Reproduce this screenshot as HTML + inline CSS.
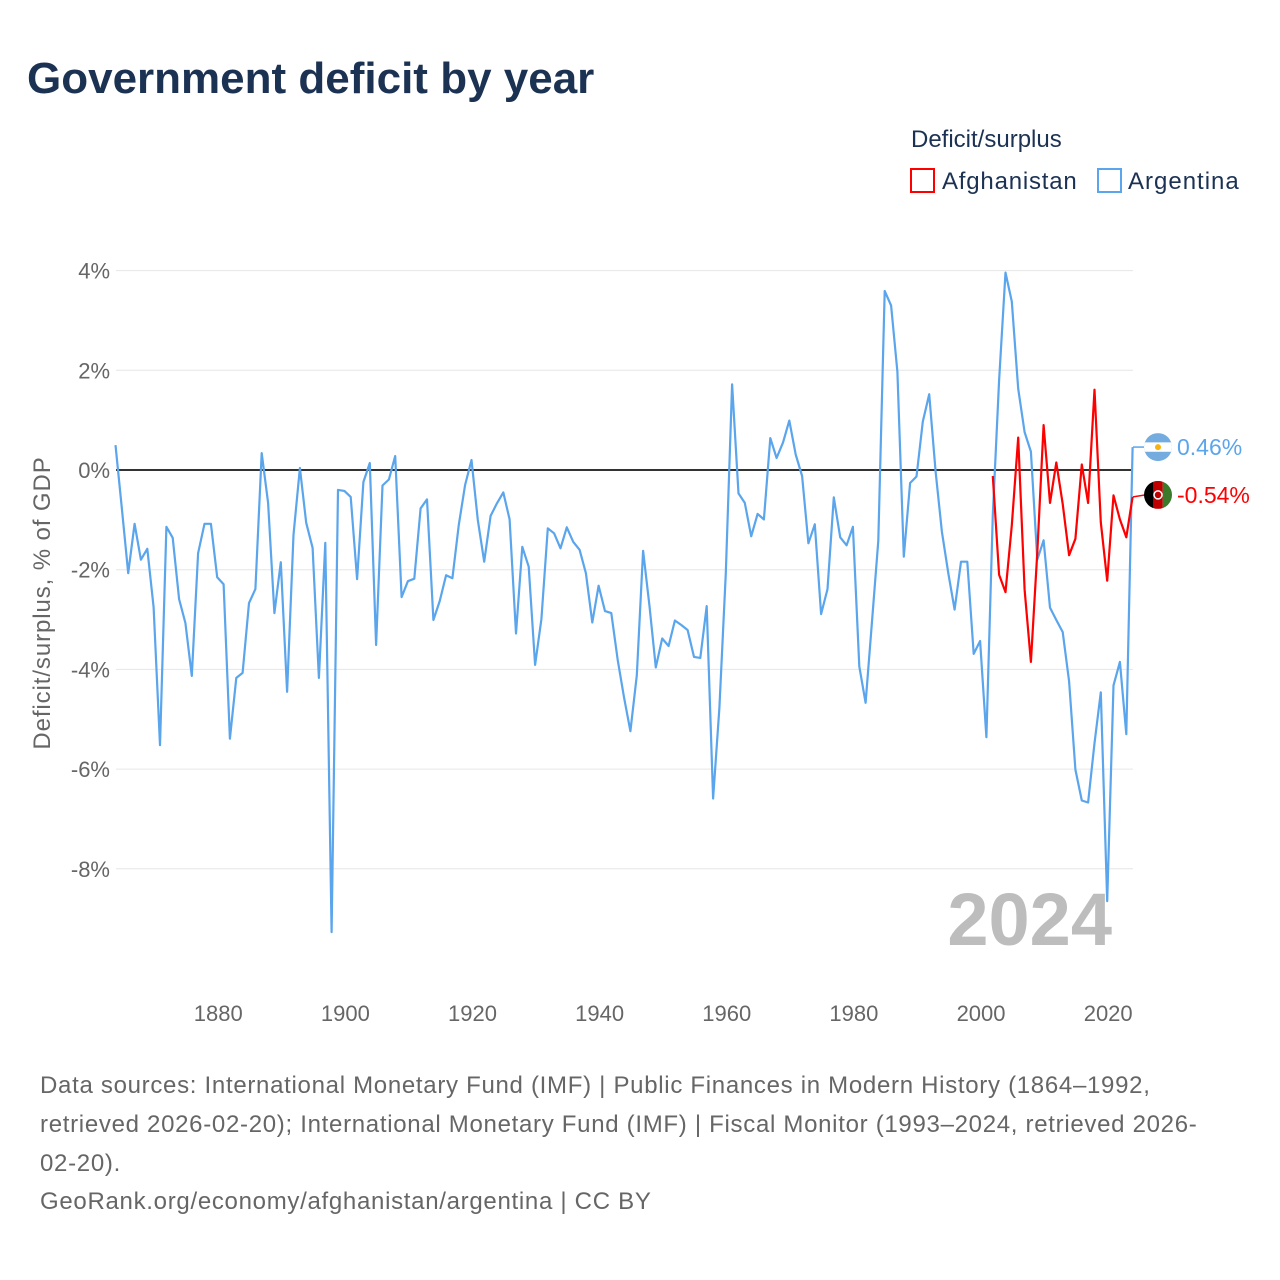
<!DOCTYPE html>
<html><head><meta charset="utf-8"><style>
html,body{margin:0;padding:0;background:#fff;}
body{width:1280px;height:1280px;position:relative;overflow:hidden;font-family:"Liberation Sans","DejaVu Sans",sans-serif;}
#chart{position:absolute;left:0;top:0;}
</style></head><body>
<svg id="chart" width="1280" height="1280" viewBox="0 0 1280 1280">
<text x="27" y="93" font-size="44" font-weight="bold" fill="#1b3253">Government deficit by year</text>
<text x="911" y="147" font-size="24" fill="#1b3253">Deficit/surplus</text>
<g><rect x="911" y="169" width="23" height="23" fill="none" stroke="#ff0000" stroke-width="2"/><text x="942" y="189" font-size="24" letter-spacing="0.8" fill="#1b3253">Afghanistan</text></g>
<g><rect x="1098" y="169" width="23" height="23" fill="none" stroke="#5aa5ec" stroke-width="2"/><text x="1128" y="189" font-size="24" letter-spacing="1" fill="#1b3253">Argentina</text></g>
<g id="grid"></g>
<g id="yticks"></g>
<g id="xticks"></g>
<text transform="translate(50,603) rotate(-90)" text-anchor="middle" font-size="24" letter-spacing="0.9" fill="#666">Deficit/surplus, % of GDP</text>
<text x="1112" y="945" text-anchor="end" font-size="74" font-weight="bold" fill="#bdbdbd">2024</text>
<g id="series"></g>
<g id="labels"></g>
<g font-size="24" letter-spacing="0.7" fill="#666">
<text x="40" y="1093">Data sources: International Monetary Fund (IMF) | Public Finances in Modern History (1864–1992,</text>
<text x="40" y="1132">retrieved 2026-02-20); International Monetary Fund (IMF) | Fiscal Monitor (1993–2024, retrieved 2026-</text>
<text x="40" y="1171">02-20).</text>
<text x="40" y="1209">GeoRank.org/economy/afghanistan/argentina | CC BY</text>
</g>
</svg>
<script>
const argStartYear = 1864;
const argValues = [0.5,-0.78,-2.07,-1.08,-1.8,-1.58,-2.75,-5.52,-1.14,-1.36,-2.59,-3.07,-4.13,-1.67,-1.08,-1.08,-2.15,-2.29,-5.39,-4.17,-4.07,-2.67,-2.39,0.34,-0.66,-2.87,-1.85,-4.45,-1.3,0.04,-1.06,-1.56,-4.17,-1.46,-9.27,-0.4,-0.42,-0.54,-2.19,-0.24,0.14,
-3.51,-0.31,-0.19,0.28,-2.55,-2.23,-2.18,-0.77,-0.59,-3.01,-2.63,-2.11,-2.17,-1.1,-0.3,0.2,-1.0,-1.84,-0.92,-0.67,-0.45,-0.99,-3.28,-1.54,-1.94,-3.91,-2.99,-1.17,-1.27,-1.57,-1.15,-1.44,-1.6,-2.07,-3.06,-2.32,-2.83,-2.87,
-3.81,-4.57,-5.24,-4.12,-1.62,-2.73,-3.96,-3.38,-3.53,-3.02,-3.11,-3.21,-3.75,-3.77,-2.73,-6.59,-4.77,-2.07,1.72,-0.47,-0.66,-1.33,-0.88,-0.99,0.64,0.24,0.55,0.99,0.31,-0.12,-1.47,-1.09,-2.89,-2.39,-0.55,-1.35,-1.51,-1.14,-3.94,-4.67,-3.04,-1.42,3.59,3.3,
1.97,-1.74,-0.26,-0.13,0.97,1.52,-0.03,-1.24,-2.07,-2.8,-1.84,-1.84,-3.69,-3.43,-5.36,-0.9,1.8,3.96,3.38,1.63,0.76,0.37,-1.8,-1.41,-2.76,-3.01,-3.25,-4.24,-6.01,-6.63,-6.67,-5.48,-4.46,-8.65,-4.32,-3.85,-5.3,0.46];
const afgStartYear = 2002;
const afgValues = [-0.12,-2.1,-2.45,-1.11,0.65,-2.4,-3.85,-1.65,0.9,-0.66,0.15,-0.68,-1.71,-1.38,0.11,-0.66,1.61,-1.05,-2.22,-0.51,-0.99,-1.35,-0.54];
const yTicks = [4,2,0,-2,-4,-6,-8];
const yTickLabels = ["4%","2%","0%","-2%","-4%","-6%","-8%"];
const xTicks = [1880,1900,1920,1940,1960,1980,2000,2020];

const NS="http://www.w3.org/2000/svg";
const X0=116, X1=1133;
function xs(yr){return 115.5+(yr-1864)*6.357;}
function ys(v){return 470-v*49.85;}
function mk(tag,attrs,parent){const e=document.createElementNS(NS,tag);for(const k in attrs)e.setAttribute(k,attrs[k]);parent.appendChild(e);return e;}
const grid=document.getElementById('grid'),yt=document.getElementById('yticks'),xt=document.getElementById('xticks');
yTicks.forEach((v,i)=>{
  if(v!==0){const l=mk('line',{x1:X0,x2:X1,y1:ys(v),y2:ys(v),stroke:'#e6e6e6','stroke-width':1},grid);
  
  }
  const t=mk('text',{x:110,y:ys(v)+8,'text-anchor':'end','font-size':22,fill:'#666'},yt);
  t.textContent=yTickLabels[i];
  
  
});
xTicks.forEach(yr=>{
  const t=mk('text',{x:xs(yr)+1,y:1021,'text-anchor':'middle','font-size':22,fill:'#666'},xt);
  t.textContent=yr;
  
  
});
const zl=mk('line',{x1:X0,x2:X1,y1:ys(0),y2:ys(0),stroke:'#333','stroke-width':2},grid);


const ser=document.getElementById('series');
function line(vals,start,color,name){
  const d=vals.map((v,i)=>(i?'L':'M')+xs(start+i).toFixed(1)+','+ys(v).toFixed(1)).join('');
  const p=mk('path',{d:d,fill:'none',stroke:color,'stroke-width':2.2,'stroke-linejoin':'round'},ser);
  
  
}
line(argValues,argStartYear,'#5aa5ec','argentina-line');
line(afgValues,afgStartYear,'#ff0000','afghanistan-line');
const lab=document.getElementById('labels');
const argLast=argValues[argValues.length-1], afgLast=afgValues[afgValues.length-1];
const yA=ys(argLast), yF=ys(afgLast)-2;
mk('line',{x1:X1,x2:1145,y1:ys(argLast),y2:yA,stroke:'#5aa5ec','stroke-width':1.5},lab);
mk('line',{x1:X1,x2:1145,y1:ys(afgLast),y2:yF,stroke:'#ff0000','stroke-width':1.5},lab);
const fa=mk('g',{},lab);


const ca=mk('clipPath',{id:'ca'},fa);mk('circle',{cx:1158,cy:yA,r:14},ca);
const ga=mk('g',{'clip-path':'url(#ca)'},fa);
mk('rect',{x:1144,y:yA-14,width:28,height:28,fill:'#74acdf'},ga);
mk('rect',{x:1144,y:yA-4.7,width:28,height:9.4,fill:'#fff'},ga);
mk('circle',{cx:1158,cy:yA,r:3,fill:'#f6b40e'},ga);
const ff=mk('g',{},lab);


const cp=mk('clipPath',{id:'cf'},ff);mk('circle',{cx:1158,cy:yF,r:14},cp);
const gf=mk('g',{'clip-path':'url(#cf)'},ff);
mk('rect',{x:1144,y:yF-14,width:9.4,height:28,fill:'#000'},gf);
mk('rect',{x:1153.4,y:yF-14,width:9.4,height:28,fill:'#be0000'},gf);
mk('rect',{x:1162.8,y:yF-14,width:9.4,height:28,fill:'#3b7a2a'},gf);
mk('circle',{cx:1158,cy:yF,r:4,fill:'none',stroke:'#fff','stroke-width':1.5},gf);
const ta=mk('text',{x:1177,y:yA+8,'font-size':23,fill:'#5aa5ec'},lab);
ta.textContent=argLast.toFixed(2)+'%';


const tf=mk('text',{x:1177,y:yF+8,'font-size':23,fill:'#ff0000'},lab);
tf.textContent=afgLast.toFixed(2)+'%';


</script>
</body></html>
